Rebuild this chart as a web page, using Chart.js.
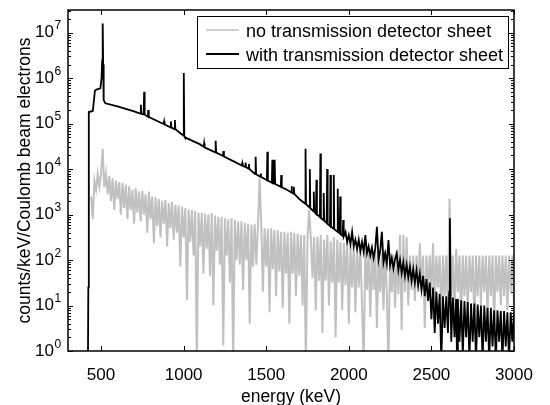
<!DOCTYPE html>
<html><head><meta charset="utf-8">
<script src="https://cdn.jsdelivr.net/npm/chart.js@4.4.1/dist/chart.umd.min.js"></script>
<style>html,body{margin:0;padding:0;background:#fff;}canvas{display:block;}</style>
</head><body>
<canvas id="c" width="550" height="405"></canvas>
<script>
const xTitle = 'energy (keV)';
const yTitle = 'counts/keV/Coulomb beam electrons';
const legendLabels = ['no transmission detector sheet', 'with transmission detector sheet'];
const xTickValues = [500, 1000, 1500, 2000, 2500, 3000];
const yDecades = [0, 1, 2, 3, 4, 5, 6, 7];

// "no transmission detector sheet" (gray)
const grayEnergy = [
 440,450,460,470,480,490,500,510,520,530,
 540,550,560,570,580,590,600,610,620,630,
 640,650,660,670,680,690,700,710,720,730,
 740,750,760,770,780,790,800,810,820,830,
 840,850,860,870,880,890,900,910,920,930,
 940,950,960,970,980,990,1000,1010,1020,1030,
 1040,1050,1060,1070,1080,1090,1100,1110,1120,1130,
 1140,1150,1160,1170,1180,1190,1200,1210,1220,1230,
 1240,1250,1260,1270,1280,1290,1300,1310,1320,1330,
 1340,1350,1360,1370,1380,1390,1400,1410,1420,1430,
 1440,1450,1460,1470,1480,1490,1500,1510,1520,1530,
 1540,1550,1560,1570,1580,1590,1600,1610,1620,1630,
 1640,1650,1660,1670,1680,1690,1700,1710,1720,1730,
 1740,1750,1760,1770,1780,1790,1800,1810,1820,1830,
 1840,1850,1860,1870,1880,1890,1900,1910,1920,1930,
 1940,1950,1960,1970,1980,1990,2000,2010,2020,2030,
 2040,2050,2060,2070,2080,2090,2100,2110,2120,2130,
 2140,2150,2160,2170,2180,2190,2200,2210,2220,2230,
 2240,2250,2260,2270,2280,2290,2300,2310,2320,2330,
 2340,2350,2360,2370,2380,2390,2400,2410,2420,2430,
 2440,2450,2460,2470,2480,2490,2500,2510,2520,2530,
 2540,2550,2560,2570,2580,2590,2600,2610,2620,2630,
 2640,2650,2660,2670,2680,2690,2700,2710,2720,2730,
 2740,2750,2760,2770,2780,2790,2800,2810,2820,2830,
 2840,2850,2860,2870,2880,2890,2900,2910,2920,2930,
 2940,2950,2960,2970,2980,2990,3000
];
const grayCounts = [
 2500,790,5600,3500,7900,4200,7600,28000,4000,7900,
 2800,7100,2000,6300,1260,5600,2200,5200,1000,5000,
 1400,4500,790,4200,1260,3500,630,3800,1100,3200,
 710,3300,1000,2800,400,3200,790,2500,234,2400,
 560,2200,316,2000,630,2100,200,1800,500,1900,
 280,1650,400,1600,71,1500,316,1400,13,1300,
 250,1260,126,1200,0.5,1100,200,1100,50,1050,
 178,1000,45,1070,10,950,158,890,79,890,
 1.3,830,126,790,32,830,0.5,760,100,710,
 79,710,22,660,100,630,4,600,71,630,
 79,560,6300,525,20,500,71,480,7.1,500,
 63,460,16,450,56,420,8.9,420,50,400,
 4,420,50,400,16,380,45,355,10,355,
 0.5,320,1260,300,40,320,7.9,330,35,355,
 2.5,280,35,355,10,260,32,320,2,280,
 32,250,7.9,240,28,250,4,210,25,225,
 7.1,200,25,190,10,0.5,190,22,165,5.6,
 178,22,158,3.2,150,20,141,7.9,158,20,
 0.5,141,20,132,8.9,158,18,355,2.9,355,
 20,316,10,126,22,126,12.6,126,20,234,
 22,126,3.2,126,22,126,20,234,10,126,
 25,126,5,126,16,126,10,2240,16,126,
 6.3,178,20,126,5,126,16,126,7.9,126,
 20,126,4,126,16,126,10,126,20,126,
 6.3,126,16,126,3.2,126,20,126,10,126,
 16,126,7.9,126,20,126,10
];

// "with transmission detector sheet" (black)
const blackEnergy = [
 421,423,425,427,450,456,463,472,496,503,507,510,513,516,526,
 600,700,738,741,744,758,761,764,783,786,789,
 879,882,885,920,923,926,944,947,950,990,997,1001,1004,1008,
 1100,1121,1124,1127,1191,1194,1197,1238,1241,1244,1300,
 1352,1355,1358,1372,1375,1378,1392,1395,1398,1433,1436,1439,
 1464,1467,1470,1504,1507,1510,1534,1537,1540,1548,1551,1554,
 1588,1591,1594,1620,1650,1653,1656,1664,1667,1670,1700,
 1735,1738,1741,1761,1764,1767,1785,1788,1791,1801,1804,1807,
 1825,1828,1831,1845,1848,1851,1866,1869,1872,1886,1889,1892,
 1906,1909,1912,1930,1933,1936,1945,1948,1951,1963,1966,1969,
 1980,1990,2000,2010,2020,2030,2040,2050,2060,2070,
 2080,2090,2100,2110,2120,2130,2140,2150,2160,2170,
 2180,2190,2200,2210,2220,2230,2240,2250,2260,2270,
 2280,2290,2300,2310,2320,2330,2340,2350,2360,2370,
 2380,2390,2400,2410,2420,2430,2440,2450,2460,2470,
 2480,2490,2500,2510,2520,2530,2540,2550,2560,2570,
 2580,2590,2600,2608,2612,2616,2620,2630,2640,2650,2655,
 2660,2670,2680,2690,2700,2710,2720,2730,2740,2750,
 2760,2770,2780,2790,2800,2810,2820,2830,2840,2850,
 2860,2870,2880,2890,2900,2910,2920,2930,2940,2950,
 2960,2970,2980,2990,3000
];
const blackCounts = [
 0.9,25,25,1.8e5,1.9e5,3e5,5.3e5,5.6e5,6e5,1e6,2.5e6,1.6e7,2e6,3.3e5,2.8e5,
 2.4e5,1.86e5,1.66e5,2.6e5,1.65e5,1.6e5,5e5,1.58e5,1.42e5,2e5,1.4e5,
 9.8e4,1.12e5,9.6e4,8.3e4,1.12e5,8.2e4,7.6e4,1.2e5,7.5e4,5.8e4,5.5e4,1.3e6,5.3e4,5.0e4,
 3.5e4,3.1e4,3.7e4,3.0e4,2.35e4,4.2e4,2.3e4,1.95e4,2.5e4,1.9e4,1.5e4,
 1.2e4,1.35e4,1.18e4,1.12e4,1.4e4,1.1e4,1.03e4,1.3e4,1.0e4,7.8e3,1.86e4,7.7e3,
 6.8e3,8e3,6.7e3,5.7e3,2.4e4,5.6e3,5e3,1.6e4,4.9e3,4.8e3,1.6e4,4.7e3,
 4.1e3,7.4e3,4e3,3.6e3,3.1e3,4.2e3,3.05e3,2.9e3,4.1e3,2.85e3,2.2e3,
 1.75e3,2.8e4,1.7e3,1.45e3,1e4,1.38e3,1.2e3,3.2e3,1.15e3,1.05e3,5.8e3,1.02e3,
 880,2.2e4,850,760,3e3,740,650,1e4,630,560,7.4e3,550,
 490,7.4e3,480,420,3.7e3,410,385,2.5e3,370,340,760,330,
 417,251,355,224,417,200,282,178,282,158,
 251,151,355,141,200,126,190,112,178,537,
 100,158,417,89,141,83,275,76,112,66,
 105,141,60,100,52,89,45,79,42,71,
 35,63,32,60,28,50,22,45,16,38,
 12.6,32,5,25,2.5,20,4,18,0.6,16,
 3.2,16,2.5,20,832,16,1.6,15,2,14,0.6,
 14,1.6,13,0.8,12.6,2,12,0.6,11,1.6,
 11,0.6,10.5,2,10,0.6,10,1.6,8.9,0.6,
 8.9,1.26,7.9,0.6,7.9,1.6,7.6,0.6,7.6,1.26,
 7.1,0.6,7.1,1.6,7.1
];

const FONT = "'Liberation Sans', Arial, Helvetica, sans-serif";

const toPoints = (xs, ys) => xs.map((e, i) => ({x: e, y: ys[i]}));

function isPow10(v) {
  const l = Math.log10(v);
  return Math.abs(l - Math.round(l)) < 1e-9;
}
function isLogStep(v) {
  const e = Math.floor(Math.log10(v) + 1e-9);
  const m = v / Math.pow(10, e);
  return Math.abs(m - Math.round(m)) < 1e-6;
}

const decor = {
  id: 'decor',
  afterDatasetsDraw(chart) {
    const {ctx, chartArea: a, scales} = chart;
    const xs = scales.x, ys = scales.y;
    ctx.save();
    ctx.strokeStyle = '#000';
    ctx.lineWidth = 1;
    ctx.beginPath();
    xs.ticks.forEach(t => {
      const px = Math.round(xs.getPixelForValue(t.value)) + 0.5;
      ctx.moveTo(px, a.bottom); ctx.lineTo(px, a.bottom - 5);
      ctx.moveTo(px, a.top); ctx.lineTo(px, a.top + 5);
    });
    ys.ticks.forEach(t => {
      if (!isLogStep(t.value)) return;
      const py = Math.round(ys.getPixelForValue(t.value)) + 0.5;
      const len = isPow10(t.value) ? 5 : 3;
      ctx.moveTo(a.left, py); ctx.lineTo(a.left + len, py);
      ctx.moveTo(a.right, py); ctx.lineTo(a.right - len, py);
    });
    ctx.stroke();
    ctx.lineWidth = 1.5;
    ctx.strokeRect(a.left, a.top, a.right - a.left, a.bottom - a.top);
    ctx.fillStyle = '#000';
    yDecades.forEach(d => {
      const py = ys.getPixelForValue(Math.pow(10, d));
      ctx.font = '17px ' + FONT;
      ctx.textAlign = 'right';
      ctx.textBaseline = 'middle';
      ctx.fillText('10', 54, py);
      ctx.font = '12px ' + FONT;
      ctx.textAlign = 'left';
      ctx.textBaseline = 'alphabetic';
      ctx.fillText(String(d), 54.5, py - 3.5);
    });
    const L = {left: 197, top: 16, right: 508, bottom: 68};
    ctx.fillStyle = '#fff';
    ctx.fillRect(L.left, L.top, L.right - L.left, L.bottom - L.top);
    ctx.lineWidth = 1;
    ctx.strokeStyle = '#000';
    ctx.strokeRect(L.left + 0.5, L.top + 0.5, L.right - L.left, L.bottom - L.top);
    const rows = [
      {y: 30, color: '#c0c0c0', w: 1.5, text: legendLabels[0], ty: 32},
      {y: 54, color: '#000', w: 2, text: legendLabels[1], ty: 56}
    ];
    rows.forEach(r => {
      ctx.strokeStyle = r.color; ctx.lineWidth = r.w;
      ctx.beginPath(); ctx.moveTo(206, r.y); ctx.lineTo(239, r.y); ctx.stroke();
      ctx.fillStyle = '#000';
      ctx.font = '18px ' + FONT;
      ctx.textAlign = 'left'; ctx.textBaseline = 'middle';
      ctx.fillText(r.text, 246, r.ty);
    });
    ctx.restore();
  }
};

new Chart(document.getElementById('c'), {
  type: 'line',
  data: {
    datasets: [
      {label: legendLabels[1], data: toPoints(blackEnergy, blackCounts), borderColor: '#000', borderWidth: 1.8, pointRadius: 0, tension: 0, fill: false},
      {label: legendLabels[0], data: toPoints(grayEnergy, grayCounts), borderColor: '#c0c0c0', borderWidth: 2, pointRadius: 0, tension: 0, fill: false}
    ]
  },
  options: {
    responsive: false,
    animation: false,
    devicePixelRatio: 1,
    layout: {padding: {left: 0, right: 36, top: 10, bottom: 0}},
    plugins: {legend: {display: false}, tooltip: {enabled: false}},
    scales: {
      x: {
        type: 'linear', min: 300, max: 3000, position: 'bottom',
        grid: {display: false}, border: {display: false},
        afterBuildTicks: s => { s.ticks = xTickValues.map(v => ({value: v})); },
        ticks: {autoSkip: false, maxRotation: 0, padding: 6, color: '#000', font: {family: FONT, size: 17},
          callback: v => String(v)},
        title: {display: true, text: xTitle, color: '#000', font: {family: FONT, size: 17.5, lineHeight: 1}, padding: {top: 0, bottom: -1}},
        afterFit: s => { s.height = 54; }
      },
      y: {
        type: 'logarithmic', min: 1, max: 3.16e7, position: 'left',
        grid: {display: false}, border: {display: false},
        ticks: {display: false, autoSkip: false},
        title: {display: true, text: yTitle, color: '#000', font: {family: FONT, size: 17.5, lineHeight: 1}, padding: {top: 16, bottom: 0}},
        afterFit: s => { s.width = 68; }
      }
    }
  },
  plugins: [decor]
});
</script>
</body></html>
